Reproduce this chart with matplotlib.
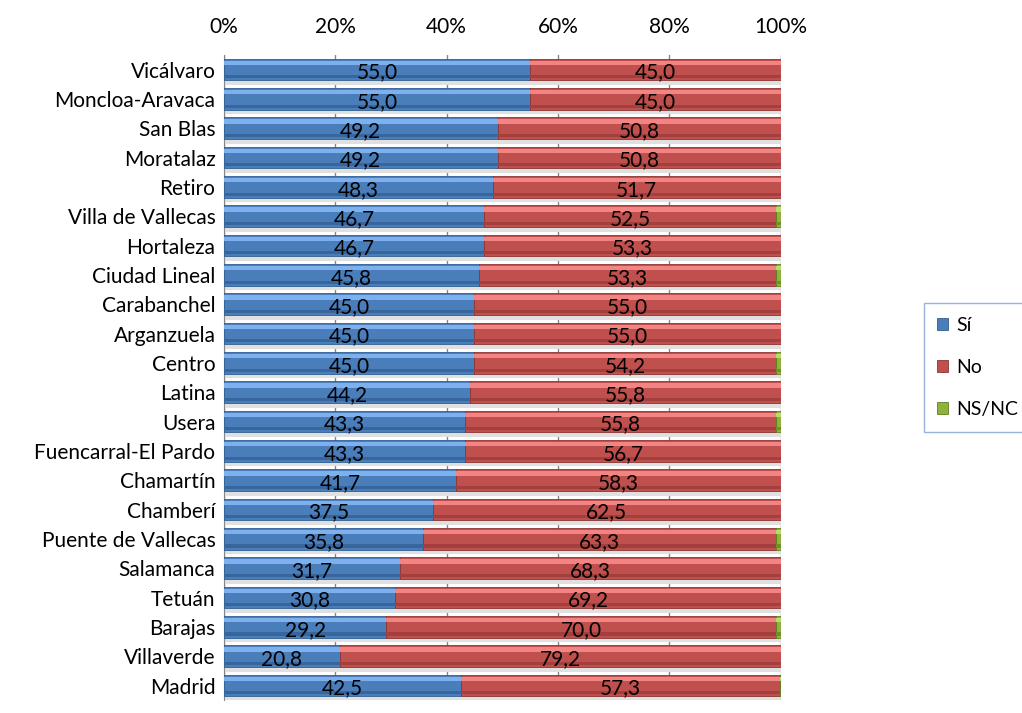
import numpy as np
import matplotlib.pyplot as plt

plt.rcParams['font.family'] = ['Lato', 'DejaVu Sans']

districts = ["Vicálvaro", "Moncloa-Aravaca", "San Blas", "Moratalaz", "Retiro",
             "Villa de Vallecas", "Hortaleza", "Ciudad Lineal", "Carabanchel",
             "Arganzuela", "Centro", "Latina", "Usera", "Fuencarral-El Pardo",
             "Chamartín", "Chamberí", "Puente de Vallecas", "Salamanca", "Tetuán",
             "Barajas", "Villaverde", "Madrid"]
si = [55.0, 55.0, 49.2, 49.2, 48.3, 46.7, 46.7, 45.8, 45.0, 45.0, 45.0, 44.2,
      43.3, 43.3, 41.7, 37.5, 35.8, 31.7, 30.8, 29.2, 20.8, 42.5]
no = [45.0, 45.0, 50.8, 50.8, 51.7, 52.5, 53.3, 53.3, 55.0, 55.0, 54.2, 55.8,
      55.8, 56.7, 58.3, 62.5, 63.3, 68.3, 69.2, 70.0, 79.2, 57.3]
nsnc = [0.0, 0.0, 0.0, 0.0, 0.0, 0.8, 0.0, 0.9, 0.0, 0.0, 0.8, 0.0,
        0.9, 0.0, 0.0, 0.0, 0.9, 0.0, 0.0, 0.8, 0.0, 0.2]

si = np.array(si)
no = np.array(no)
nsnc = np.array(nsnc)
y = np.arange(len(districts))

fig = plt.figure(figsize=(10.22, 7.13), dpi=100)
ax = fig.add_axes([0.219, 0.018, 0.545, 0.905])

h = 0.74
# grey "floor" shadow under each bar (3D look)
ax.barh(y + 0.42, 100, height=0.22, color='#e0e0e0', zorder=1)

series = [
    (si, np.zeros(len(si)), '#4a7ebb', '#7db0ec', '#38659b', '#2f5f94'),
    (no, si, '#c0504d', '#f28484', '#a33f3c', '#8c3331'),
    (nsnc, si + no, '#8db33a', '#b8dc6a', '#6f8f2a', '#5f7d22'),
]
handles = []
for vals, left, col, light, shade, dark in series:
    b = ax.barh(y, vals, left=left, height=h, color=col, edgecolor=dark,
                linewidth=0.6, zorder=3)
    # light strip on top, darker strip at bottom of each bar
    ax.barh(y - h * 0.31, vals, left=left, height=h * 0.2, color=light,
            linewidth=0, zorder=4)
    ax.barh(y + h * 0.33, vals, left=left, height=h * 0.14, color=shade,
            linewidth=0, zorder=4)
    handles.append(b)

for i in range(len(y)):
    ax.text(si[i] / 2, y[i] + 0.1, f"{si[i]:.1f}".replace('.', ','),
            ha='center', va='center', fontsize=15, zorder=5)
    ax.text(si[i] + no[i] / 2, y[i] + 0.1, f"{no[i]:.1f}".replace('.', ','),
            ha='center', va='center', fontsize=15, zorder=5)

ax.set_xlim(0, 100)
ax.set_ylim(len(y) - 0.5, -0.5)
ax.set_yticks(y)
ax.set_yticklabels(districts, fontsize=15)
ax.set_xticks(np.arange(0, 101, 20))
ax.set_xticklabels([f"{v}%" for v in range(0, 101, 20)], fontsize=15)
ax.xaxis.tick_top()
ax.tick_params(axis='x', length=0, pad=13)
ax.tick_params(axis='y', length=0, pad=6)
ax.grid(axis='x', color='#868686', linewidth=1, zorder=0)
ax.set_axisbelow(True)
for s in ['top', 'right', 'bottom']:
    ax.spines[s].set_visible(False)
ax.spines['left'].set_color('#868686')

leg = fig.legend(handles, ['Sí', 'No', 'NS/NC'], loc='upper left',
                 bbox_to_anchor=(0.904, 0.575), fontsize=14,
                 handlelength=0.55, handleheight=0.55, handletextpad=0.4,
                 labelspacing=1.3, borderpad=0.7, borderaxespad=0,
                 fancybox=False)
leg.get_frame().set_edgecolor('#7fa3d0')
leg.get_frame().set_linewidth(1)

fig.savefig('out.png', dpi=100)
